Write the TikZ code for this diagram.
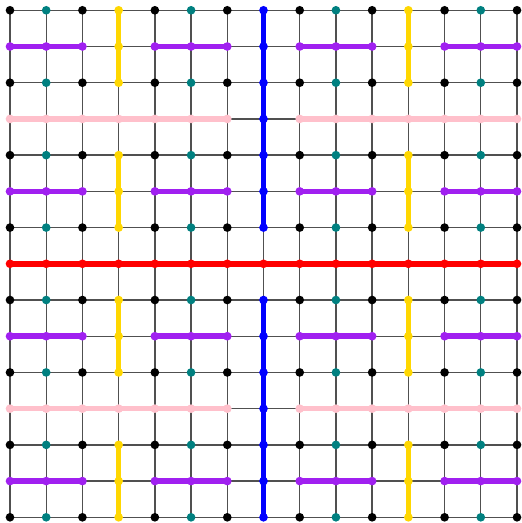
\documentclass[tikz,border=0pt]{standalone}
\usetikzlibrary{backgrounds}
\definecolor{dotred}{RGB}{255,0,0}
\definecolor{dotblue}{RGB}{0,0,255}
\definecolor{dotpink}{RGB}{255,192,203}
\definecolor{dotyellow}{RGB}{255,215,0}
\definecolor{dotpurple}{RGB}{160,32,240}
\definecolor{dotteal}{RGB}{0,128,128}
\definecolor{dotblack}{RGB}{0,0,0}
\definecolor{gridgray}{RGB}{80,80,80}
\tikzset{
  dot/.style={circle,fill=#1,draw=none,inner sep=0pt,minimum size=6.5pt},
  gridline/.style={draw=gridgray,line width=1pt},
  thickline/.style={draw=#1,line width=4.1pt},
}
\begin{document}
\begin{tikzpicture}[x=0.75pt,y=-0.75pt]
\useasboundingbox (0,0) rectangle (521,523);
% nodes
\foreach \i in {0,...,14}{
  \foreach \j in {0,...,14}{
    \pgfmathtruncatemacro\cc{\j==7 ? 1 : (\i==7 ? 2 : (mod(\j,8)==3 ? 3 : (mod(\i,8)==3 ? 4 : (mod(\j,4)==1 ? 5 : (mod(\i,4)==1 ? 6 : 0)))))}
    \edef\dc{\ifcase\cc dotblack\or dotred\or dotblue\or dotpink\or dotyellow\or dotpurple\or dotteal\fi}
    \node[dot=\dc] (n-\i-\j) at ({10+36.214*\i},{10.3+36.214*\j}) {};
  }
}
\begin{pgfonlayer}{background}
% thin grid
\foreach \j in {0,...,14}{
  \foreach \i [evaluate=\i as \k using int(\i+1)] in {0,...,13}{
    \draw[gridline] (n-\i-\j.center) -- (n-\k-\j.center);
    \draw[gridline] (n-\j-\i.center) -- (n-\j-\k.center);
  }
}
% purple rows
\foreach \j in {1,5,9,13}{
  \foreach \a/\b in {0/2,4/6,8/10,12/14}{
    \draw[thickline=dotpurple] (n-\a-\j.center) -- (n-\b-\j.center);
  }
}
% yellow columns
\foreach \i in {3,11}{
  \foreach \a/\b in {0/2,4/6,8/10,12/14}{
    \draw[thickline=dotyellow] (n-\i-\a.center) -- (n-\i-\b.center);
  }
}
% pink rows
\foreach \j in {3,11}{
  \foreach \a/\b in {0/6,8/14}{
    \draw[thickline=dotpink] (n-\a-\j.center) -- (n-\b-\j.center);
  }
}
% blue column
\foreach \a/\b in {0/6,8/14}{
  \draw[thickline=dotblue] (n-7-\a.center) -- (n-7-\b.center);
}
% red row
\draw[thickline=dotred] (n-0-7.center) -- (n-14-7.center);
\end{pgfonlayer}
\end{tikzpicture}
\end{document}
